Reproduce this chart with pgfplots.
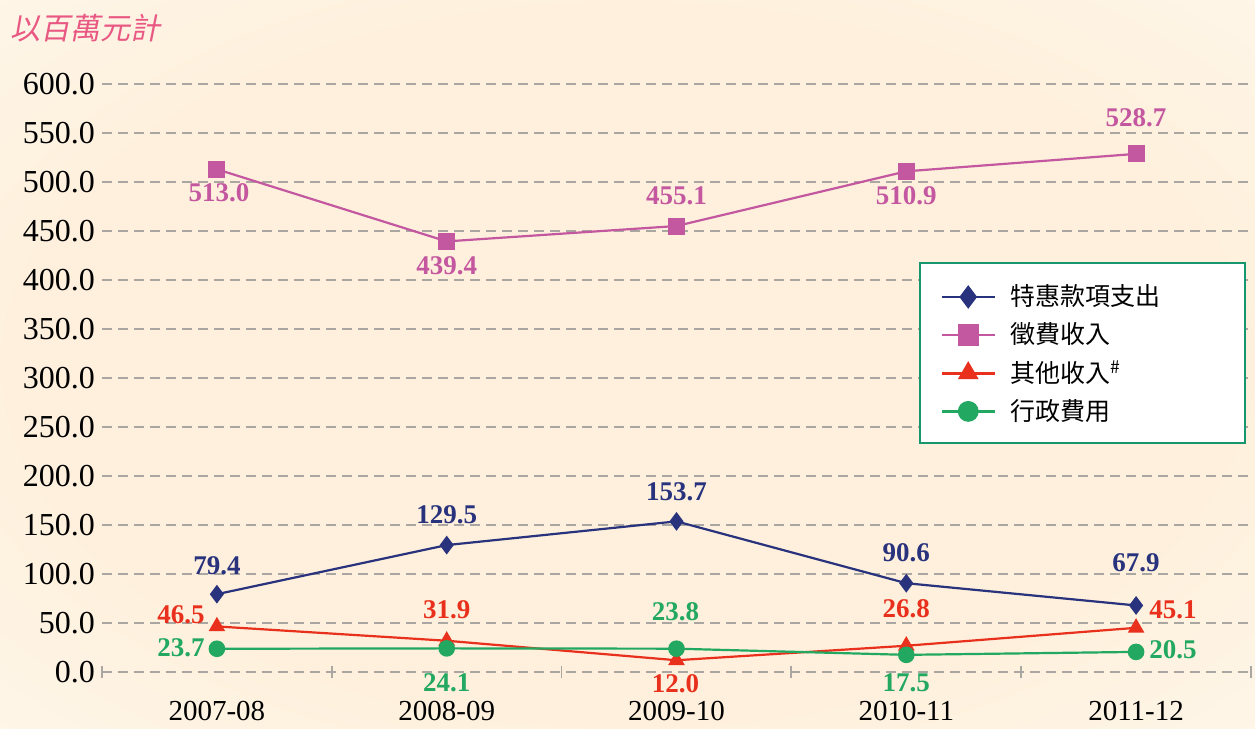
\documentclass[border=0pt]{standalone}
\usepackage{pgfplots}
\pgfplotsset{compat=1.18}
\usepackage{pgfplotstable}
\usepackage{fontspec}
\setmainfont{Liberation Serif}
\newfontfamily\cjk{Noto Sans CJK TC}
\newfontfamily\cjkslant[FakeSlant=0.2]{Noto Sans CJK TC}

\definecolor{cNavy}{RGB}{40,50,125}
\definecolor{cPink}{RGB}{196,88,160}
\definecolor{cRed}{RGB}{232,48,28}
\definecolor{cGreen}{RGB}{34,168,96}
\definecolor{cFrame}{RGB}{24,150,110}
\definecolor{cTitle}{RGB}{232,88,130}
\definecolor{cGrid}{RGB}{170,167,162}
\definecolor{bgIn}{RGB}{254,240,220}
\definecolor{bgOut}{RGB}{255,251,243}
\pgfdeclareradialshading{bgshade}{\pgfpoint{0bp}{0bp}}{color(0bp)=(bgIn); color(24bp)=(bgIn); color(46bp)=(bgOut); color(50bp)=(bgOut)}

% x = year index, y = value, dx/dy = label offset in px (up positive)
\pgfplotstableread{
x y dx dy
0 79.4 0 28
1 129.5 0 30
2 153.7 0 30
3 90.6 0 30
4 67.9 0 43
}\tNavy
\pgfplotstableread{
x y dx dy
0 513.0 2 -23
1 439.4 0 -24
2 455.1 0 30
3 510.9 0 -24
4 528.7 0 36
}\tPink
\pgfplotstableread{
x y dx dy
0 46.5 -36 12
1 31.9 0 31
2 12.0 -1 -23
3 26.8 0 37
4 45.1 37 18
}\tRed
\pgfplotstableread{
x y dx dy
0 23.7 -36 1
1 24.1 0 -34
2 23.8 -1 37
3 17.5 0 -28
4 20.5 37 2
}\tGreen

\pgfplotsset{
  ser/.style={line width=1.1pt, color=#1, mark options={solid, fill=#1}},
  lab/.style={
    draw=none, mark=none, forget plot,
    nodes near coords={\pgfmathprintnumber[fixed,fixed zerofill,precision=1,assume math mode=true]{\pgfplotspointmeta}},
    point meta=y,
    visualization depends on={\thisrow{dx}\as\dx},
    visualization depends on={\thisrow{dy}\as\dy},
    every node near coord/.style={anchor=center, inner sep=0pt, text=#1,
      font=\fontsize{13.5}{15}\selectfont\bfseries,
      xshift={\dx*0.5pt}, yshift={\dy*0.5pt}},
  },
}

\begin{document}
\begin{tikzpicture}
\useasboundingbox (-51pt,-28.5pt) rectangle (576.5pt,336pt);
\shade[shading=bgshade] (-51pt,-28.5pt) rectangle (576.5pt,336pt);
\begin{axis}[
    scale only axis,
    width=574.5pt, height=294pt,
    xmin=-0.5, xmax=4.5, ymin=0, ymax=600,
    clip=false,
    axis line style={draw=none},
    tick pos=left,
    xtick={0,1,2,3,4},
    xticklabels={2007-08,2008-09,2009-10,2010-11,2011-12},
    minor xtick={-0.5,0.5,1.5,2.5,3.5,4.5},
    ytick={0,50,...,600},
    major tick length=0pt,
    minor tick length=6.5pt,
    tick align=center,
    minor tick style={cGrid, line width=0.9pt},
    ymajorgrids,
    major grid style={cGrid, line width=0.85pt, dash pattern=on 5pt off 3pt},
    yticklabel style={font=\fontsize{16}{18}\selectfont,
      /pgf/number format/.cd, fixed, fixed zerofill, precision=1, assume math mode=true},
    xticklabel style={font=\fontsize{14.5}{16}\selectfont, yshift=-11pt},
    legend style={draw=none, fill=none, inner sep=0pt,
      at={(0.7293,0.659)}, anchor=north west,
      nodes={inner sep=0pt}, row sep=7pt, column sep=7pt,
      font=\cjk\fontsize{12.5}{15}\selectfont},
    legend cell align=left,
    legend image code/.code={\draw[mark repeat=2,mark phase=2,#1,line width=1.4pt,every mark/.append style={scale=1.25}] plot coordinates {(0pt,0pt) (13.25pt,0pt) (26.5pt,0pt)};},
  ]
  \filldraw[fill=white, draw=cFrame, line width=1.1pt]
    (axis description cs:0.712,0.6956) rectangle (axis description cs:0.9948,0.3895);
  \addplot[ser=cNavy, mark=diamond*, mark size=3.8pt] table[x=x,y=y] {\tNavy};
  \addlegendentry{特惠款項支出}
  \addplot[ser=cPink, mark=square*, mark size=3.7pt] table[x=x,y=y] {\tPink};
  \addlegendentry{徵費收入}
  \addplot[ser=cRed, mark=triangle*, mark size=3.7pt] table[x=x,y=y] {\tRed};
  \addlegendentry{其他收入\textsuperscript{\#}}
  \addplot[ser=cGreen, mark=*, mark size=3.6pt] table[x=x,y=y] {\tGreen};
  \addlegendentry{行政費用}
  \addplot[lab=cNavy] table[x=x,y=y] {\tNavy};
  \addplot[lab=cPink] table[x=x,y=y] {\tPink};
  \addplot[lab=cRed] table[x=x,y=y] {\tRed};
  \addplot[lab=cGreen] table[x=x,y=y] {\tGreen};
\end{axis}
\node[anchor=west, inner sep=0pt, text=cTitle, font=\cjkslant\fontsize{15}{17}\selectfont] at (-46pt,322pt) {以百萬元計};
\end{tikzpicture}
\end{document}
